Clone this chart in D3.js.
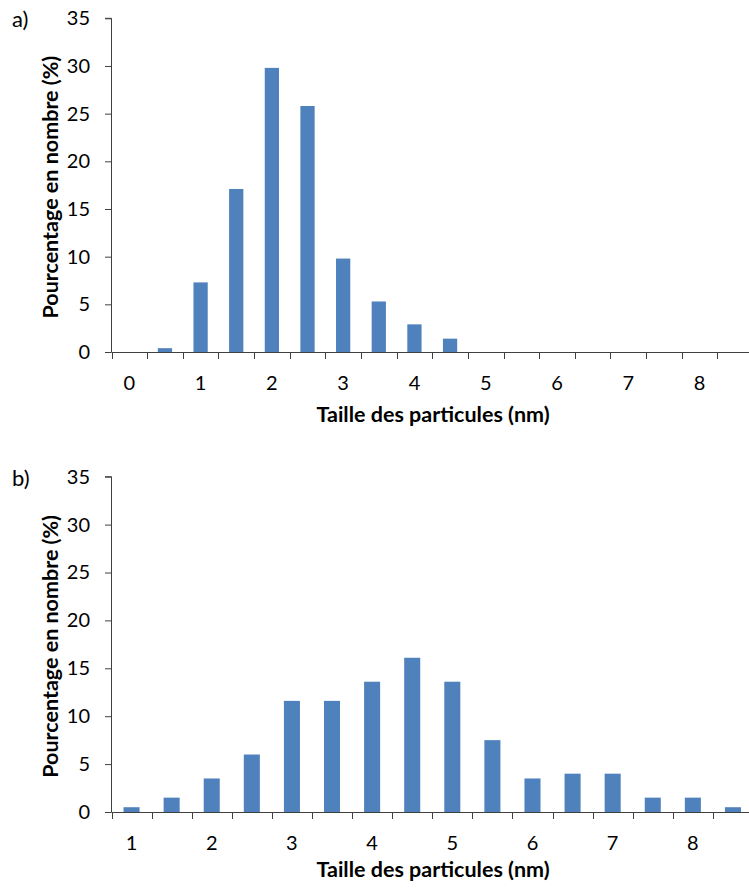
<!DOCTYPE html>
<html>
<head>
<meta charset="utf-8">
<script src="https://cdn.jsdelivr.net/npm/d3@7"></script>
<style>
  html, body { margin: 0; padding: 0; background: #fff; }
  svg { display: block; }
  text { font-family: Lato, "Noto Sans", sans-serif; fill: #000; }
</style>
</head>
<body>
<svg id="chart" width="749" height="888"></svg>
<script>
// Particle size distributions (percentage by number)
const sizesA = [0, 0.5, 1, 1.5, 2, 2.5, 3, 3.5, 4, 4.5, 5, 5.5, 6, 6.5, 7, 7.5, 8, 8.5];
const percentA = [0, 0.4, 7.3, 17.1, 29.8, 25.8, 9.8, 5.3, 2.9, 1.4, 0, 0, 0, 0, 0, 0, 0, 0];

const sizesB = [1, 1.5, 2, 2.5, 3, 3.5, 4, 4.5, 5, 5.5, 6, 6.5, 7, 7.5, 8, 8.5];
const percentB = [0.5, 1.5, 3.5, 6, 11.6, 11.6, 13.6, 16.1, 13.6, 7.5, 3.5, 4, 4, 1.5, 1.5, 0.5];

const yTicks = [0, 5, 10, 15, 20, 25, 30, 35];
const panelLabels = ["a)", "b)"];
const xTitle = "Taille des particules (nm)";
const yTitle = "Pourcentage en nombre (%)";

const barColor = "#4F81BD";
const axisColor = "#404040";
const tickFont = 20;
const titleFont = 21.5;

const svg = d3.select("#chart");

function drawPanel(opts) {
  const { sizes, values, top, bottom, label, xTitleY } = opts;
  const left = 111.5, right = 753;
  const g = svg.append("g");

  const x = d3.scaleBand().domain(sizes).range([left, right]).paddingInner(0).paddingOuter(0);
  const y = d3.scaleLinear().domain([0, 35]).range([bottom, top]);
  const bw = x.bandwidth();
  const barW = bw * 0.4;

  // bars
  g.selectAll("rect.bar")
    .data(sizes.map((s, i) => ({ s, v: values[i] })))
    .join("rect")
    .attr("class", "bar")
    .attr("x", d => x(d.s) + (bw - barW) / 2)
    .attr("width", barW)
    .attr("y", d => y(d.v))
    .attr("height", d => y(0) - y(d.v))
    .attr("fill", barColor);

  // y axis
  const yAxis = d3.axisLeft(y).tickValues(yTicks).tickSize(6.5).tickPadding(15);
  const ya = g.append("g").attr("transform", `translate(${left},0)`).call(yAxis);
  ya.select(".domain").attr("stroke", axisColor);
  ya.selectAll(".tick line").attr("stroke", axisColor);
  ya.selectAll(".tick text")
    .attr("font-family", "Lato, 'Noto Sans', sans-serif")
    .attr("font-size", tickFont)
    .attr("fill", "#000");
  ya.select(".domain").attr("d", `M-6.5,${y(35)}H0V${y(0)}`);

  // x axis: line with ticks at category boundaries
  const y0 = Math.round(y(0)) + 0.5;
  g.append("line")
    .attr("x1", left).attr("x2", right)
    .attr("y1", y0).attr("y2", y0)
    .attr("stroke", axisColor);
  const bounds = sizes.map(s => x(s)).concat([x(sizes[sizes.length - 1]) + bw]);
  g.selectAll("line.xtick")
    .data(bounds)
    .join("line")
    .attr("class", "xtick")
    .attr("x1", d => Math.round(d) + 0.5).attr("x2", d => Math.round(d) + 0.5)
    .attr("y1", y0).attr("y2", y0 + 6.5)
    .attr("stroke", axisColor);

  // x labels on integer sizes
  g.selectAll("text.xlab")
    .data(sizes.filter(s => Number.isInteger(s)))
    .join("text")
    .attr("class", "xlab")
    .attr("x", d => x(d) + bw / 2)
    .attr("y", y0 + 37)
    .attr("text-anchor", "middle")
    .attr("font-size", tickFont)
    .text(d => d);

  // axis titles
  g.append("text")
    .attr("x", 433)
    .attr("y", xTitleY)
    .attr("text-anchor", "middle")
    .attr("font-size", titleFont)
    .attr("font-weight", "bold")
    .text(xTitle);

  g.append("text")
    .attr("transform", `translate(58,${(top + bottom) / 2 + 2}) rotate(-90)`)
    .attr("text-anchor", "middle")
    .attr("font-size", titleFont)
    .attr("font-weight", "bold")
    .text(yTitle);

  // panel label
  g.append("text")
    .attr("x", 12)
    .attr("y", opts.labelY)
    .attr("font-size", 22)
    .text(label);
}

drawPanel({ sizes: sizesA, values: percentA, top: 18.3, bottom: 352, label: panelLabels[0], labelY: 27, xTitleY: 421.5 });
drawPanel({ sizes: sizesB, values: percentB, top: 476.7, bottom: 812, label: panelLabels[1], labelY: 486, xTitleY: 876.5 });
</script>
</body>
</html>
